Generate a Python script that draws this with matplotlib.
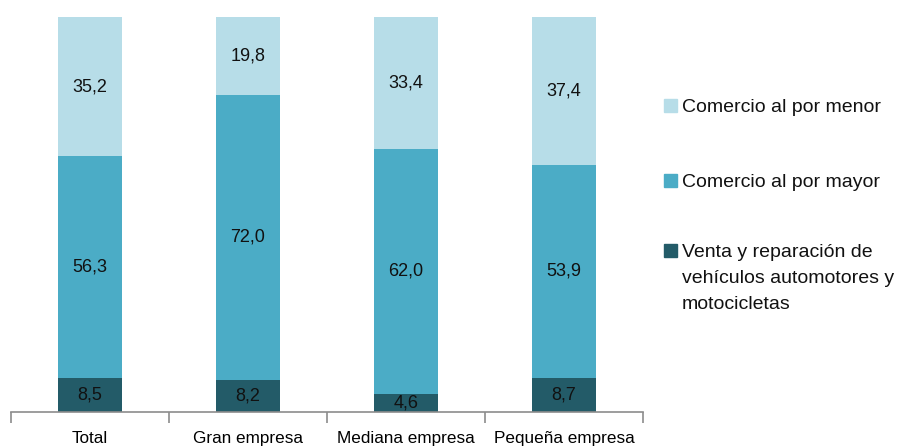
import matplotlib
matplotlib.use("Agg")
import matplotlib.pyplot as plt
from matplotlib.patches import Rectangle
from matplotlib import font_manager

categories = ["Total", "Gran empresa", "Mediana empresa", "Pequeña empresa"]
venta = [8.5, 8.2, 4.6, 8.7]
mayor = [56.3, 72.0, 62.0, 53.9]
menor = [35.2, 19.8, 33.4, 37.4]
series_names = ["Venta y reparación de\nvehículos automotores y\nmotocicletas",
                "Comercio al por mayor", "Comercio al por menor"]
colors = ["#235B68", "#4BACC6", "#B7DDE8"]

names = {f.name for f in font_manager.fontManager.ttflist}
fam = ["Liberation Sans Narrow", "Liberation Sans", "DejaVu Sans"]
fam = [f for f in fam if f in names] + ["DejaVu Sans"]
plt.rcParams["font.family"] = fam

fig = plt.figure(figsize=(8.97, 4.48), dpi=100)
ax = fig.add_axes([11/897, 36/448, (643-11)/897, (412-17)/448])

x = list(range(len(categories)))
width = 0.4
bottom = [0.0]*len(categories)
for vals, col in zip([venta, mayor, menor], colors):
    ax.bar(x, vals, width, bottom=bottom, color=col, edgecolor="none")
    for xi, b, v in zip(x, bottom, vals):
        ax.text(xi, b + v/2, f"{v:.1f}".replace(".", ","), ha="center", va="center",
                fontsize=13, color="#111111")
    bottom = [b + v for b, v in zip(bottom, vals)]

ax.set_xlim(-0.5, len(categories) - 0.5)
ax.set_ylim(0, 100)
for s in ["top", "right", "left"]:
    ax.spines[s].set_visible(False)
ax.spines["bottom"].set_color("#8C8C8C")
ax.spines["bottom"].set_linewidth(1.2)
ax.set_yticks([])
ax.set_xticks(x)
ax.set_xticklabels(categories, fontsize=12.3)
ax.tick_params(axis="x", which="major", length=0, pad=14)
ax.set_xticks([i - 0.5 for i in range(len(categories) + 1)], minor=True)
ax.tick_params(axis="x", which="minor", length=8, color="#8C8C8C", width=1.2)

# legend (manual, top to bottom)
leg_items = [(series_names[2], colors[2], 106), (series_names[1], colors[1], 181),
             (series_names[0], colors[0], 251)]
for label, col, ypx in leg_items:
    fig.patches.append(Rectangle((664/897, 1 - (ypx + 6)/448), 13/897, 13/448,
                                 transform=fig.transFigure, color=col))
    fig.text(682/897, 1 - (ypx - 7)/448, label, ha="left", va="top", fontsize=14,
             color="#111111", linespacing=1.7)

fig.savefig("out.png", dpi=100)
